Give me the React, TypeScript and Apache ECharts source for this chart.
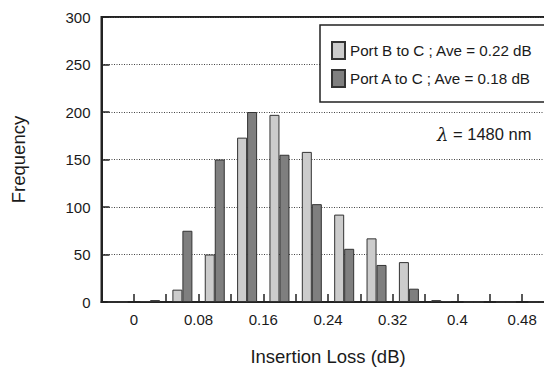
import React, { useEffect, useRef } from "react";
import * as echarts from "echarts";

const binLabels = [
  "-0.04–0", "0–0.04", "0.04–0.08", "0.08–0.12", "0.12–0.16", "0.16–0.20", "0.20–0.24",
  "0.24–0.28", "0.28–0.32", "0.32–0.36", "0.36–0.40", "0.40–0.44", "0.44–0.48", "0.48–0.52",
];
const portB = [0, 1, 13, 50, 173, 197, 158, 92, 67, 42, 2, 0, 0, 0];
const portA = [0, 2, 75, 150, 200, 155, 103, 56, 39, 14, 1, 0, 0, 0];
const xTickLabels = ["0", "0.08", "0.16", "0.24", "0.32", "0.4", "0.48"];
const yTicks = [0, 50, 100, 150, 200, 250, 300];
const seriesNames = ["Port B to C ; Ave = 0.22 dB", "Port A to C ; Ave = 0.18 dB"];
const noteText = "= 1480 nm";

const FONT = "'Liberation Sans', Arial, Helvetica, sans-serif";
const INK = "#1a1a1a";

export default function App() {
  const ref = useRef<HTMLDivElement>(null);
  useEffect(() => {
    if (!ref.current) return;
    const chart = echarts.init(ref.current, null, { renderer: "svg" });
    chart.setOption({
      animation: false,
      backgroundColor: "#ffffff",
      textStyle: { fontFamily: FONT, color: INK },
      grid: {
        left: 101.5,
        right: -2.5,
        top: 17,
        bottom: 368 - 302,
        containLabel: false,
        outerBoundsMode: "none",
        show: true,
        borderColor: "#222",
        borderWidth: 2,
        backgroundColor: "transparent",
      },
      legend: {
        orient: "vertical",
        left: 320,
        top: 25,
        padding: [16, 13, 14, 11],
        itemWidth: 13,
        itemHeight: 17,
        itemGap: 9,
        backgroundColor: "#ffffff",
        borderColor: "#222",
        borderWidth: 1.5,
        borderRadius: 0,
        icon: "rect",
        textStyle: { fontFamily: FONT, fontSize: 15.2, color: INK },
        data: seriesNames,
      },
      xAxis: [
        {
          type: "value",
          min: -0.04,
          max: 0.52,
          interval: 0.04,
          position: "bottom",
          name: "Insertion Loss (dB)",
          nameLocation: "middle",
          nameGap: 45,
          nameTextStyle: { fontFamily: FONT, fontSize: 18.5, color: INK },
          axisLine: { show: true, onZero: false, lineStyle: { color: "#222", width: 2 } },
          axisTick: { show: true, inside: true, length: 8, lineStyle: { color: "#222", width: 1.5 } },
          axisLabel: {
            margin: 10,
            fontFamily: FONT,
            fontSize: 15,
            color: INK,
            showMinLabel: true,
            showMaxLabel: true,
            formatter: (v: number) => {
              const k = Math.round(v / 0.04);
              if (k < 0 || k % 2 !== 0) return "";
              return xTickLabels[k / 2] ?? "";
            },
          },
          splitLine: { show: false },
          z: 3,
        },
        {
          type: "category",
          data: binLabels,
          boundaryGap: true,
          show: false,
          position: "bottom",
        },
      ],
      yAxis: {
        type: "value",
        min: yTicks[0],
        max: yTicks[yTicks.length - 1],
        interval: yTicks[1] - yTicks[0],
        name: "Frequency",
        nameLocation: "middle",
        nameGap: 74,
        nameTextStyle: { fontFamily: FONT, fontSize: 18.5, color: INK },
        axisLine: { show: true, onZero: false, lineStyle: { color: "#222", width: 2 } },
        axisTick: { show: true, inside: true, length: 8, lineStyle: { color: "#222", width: 1.5 } },
        axisLabel: { margin: 11, fontFamily: FONT, fontSize: 15, color: INK },
        splitLine: { show: true, lineStyle: { color: "#444", width: 1, type: [1, 1.5] } },
        z: 3,
      },
      series: [
        {
          name: seriesNames[0],
          type: "bar",
          xAxisIndex: 1,
          data: portB,
          barWidth: 10,
          barGap: "0%",
          itemStyle: { color: "#cccccc", borderColor: "#333", borderWidth: 1 },
          z: 4,
        },
        {
          name: seriesNames[1],
          type: "bar",
          xAxisIndex: 1,
          data: portA,
          barWidth: 10,
          barGap: "0%",
          itemStyle: { color: "#7f7f7f", borderColor: "#333", borderWidth: 1 },
          z: 4,
        },
      ],
      graphic: [
        {
          type: "text",
          left: 437,
          top: 125,
          style: {
            text: "{l|λ} " + noteText,
            fontFamily: FONT,
            fontSize: 16.5,
            fill: INK,
            rich: {
              l: { fontFamily: "'DejaVu Serif', 'Liberation Serif', serif", fontStyle: "italic", fontSize: 18, fill: INK },
            },
          },
          z: 10,
        },
      ],
    });
    return () => chart.dispose();
  }, []);
  return <div ref={ref} style={{ width: 552, height: 368, marginLeft: -8, marginTop: -8 }} />;
}
